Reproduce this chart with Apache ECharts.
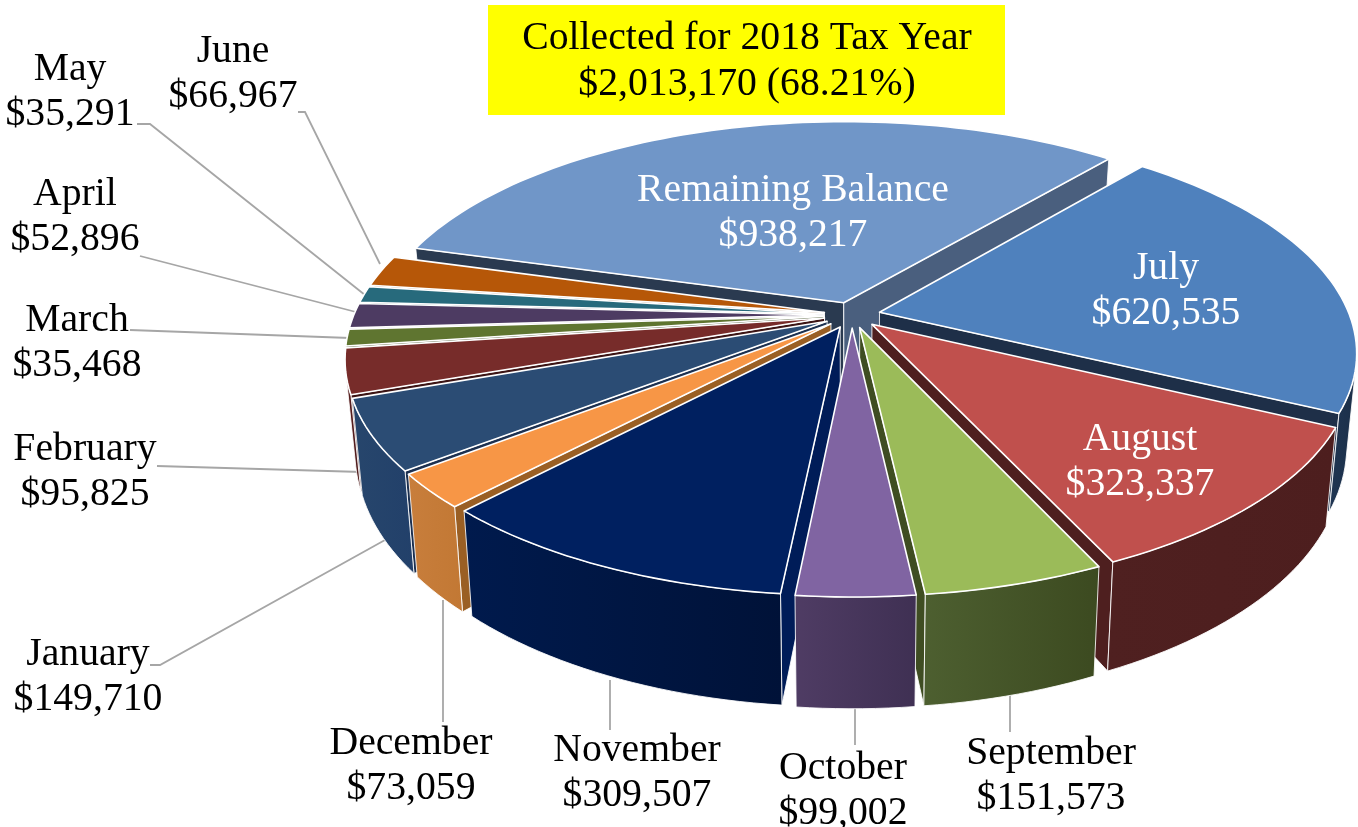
<!DOCTYPE html>
<html><head><meta charset="utf-8">
<style>html,body{margin:0;padding:0;background:#fff}#c{width:1358px;height:827px}</style>
<script src="https://cdn.jsdelivr.net/npm/echarts@6/dist/echarts.min.js"></script>
</head><body><div id="c"></div>
<script>
const categories=['July','August','September','October','November','December','January','February','March','April','May','June','Remaining Balance'];
const amounts=[620535,323337,151573,99002,309507,73059,149710,95825,35468,52896,35291,66967,938217];
const amountLabels=['$620,535','$323,337','$151,573','$99,002','$309,507','$73,059','$149,710','$95,825','$35,468','$52,896','$35,291','$66,967','$938,217'];
const topColors=['#4f81bd','#c0504d','#9bbb59','#8064a2','#002060','#f79646','#2b4c74','#772c2a','#5f7530','#4d3b62','#276a7c','#b65708','#7096c8'];
const wallLeft=['#1f3552','#4f2020','#4d5f30','#4f3c64','#001a4d','#c87e3c','#27466c','#5a2020','#46572a','#3a2c4a','#1c4f5c','#84400a','#4a5f7e'];
const wallRight=['#1c3049','#4d1e1e','#3c4a20','#3f3053','#001238','#c27834','#22406a','#4e1c1c','#3e4d24','#33273f','#173f4b','#733806','#3f5270'];
const startWall=['#1c2f4a','#4e1f1f','#3f4d22','#3f3053','#001c58','#9a5f24','#1c3050','#3c1414','#3e4d24','#33273f','#173f4b','#733806','#2a3a50'];
const endWall=['#1e2f48','#4e1f1f','#3f4d22','#3f3053','#001c58','#9a5f24','#16263e','#3c1414','#3e4d24','#33273f','#173f4b','#733806','#4a5f7e'];
const labelColors=['#fff','#fff','#000','#000','#000','#000','#000','#000','#000','#000','#000','#000','#fff'];
const labelCentres=[[1166,291],[1140,462],[1051,776],[843,791],[637,773],[411,766],[88,677],[85,472],[77,343],[75,217],[70,92],[233,74],[793,213]];
const leaderLines=[null,null,[[1010,732],[1010,695]],[[855,745],[855,708]],[[610,730],[610,680]],[[443,722],[443,600]],[[150,665],[160,665],[385,540]],[[157,466],[362,472]],[[130,330],[350,338]],[[140,256],[356,312]],[[137,124],[150,124],[365,295]],[[298,112],[305,112],[380,264]],null];

const titleLines=['Collected for 2018 Tax Year','$2,013,170 (68.21%)'];
const FONT='"Liberation Serif","Times New Roman",serif';
const FS=39.7;
const view={cx:852,cy:315,b:470,a:216.7,k:0.175,drop:91,lean:0.02,explode:0.06,start:40};
const total=amounts.reduce((s,v)=>s+v,0);
const rad=d=>d*Math.PI/180;
function topPt(X,Y){const s=1/(1-view.k*Y);return [view.cx+view.b*X*s,view.cy+view.a*Y*s,s];}
function botPt(X,Y){const p=topPt(X,Y);return [view.cx+(p[0]-view.cx)*(1-view.lean),p[1]+view.drop*p[2]];}
function area(pts){let s=0;for(let i=0;i<pts.length;i++){const a=pts[i],b=pts[(i+1)%pts.length];s+=a[0]*b[1]-b[0]*a[1];}return s;}

let acc=view.start;
const slices=amounts.map((v,i)=>{const a0=acc,a1=acc+v/total*360;acc=a1;return {i,a0,a1,mid:(a0+a1)/2};});
const rank=slices.slice().sort((p,q)=>(-Math.cos(rad(p.mid)))-(-Math.cos(rad(q.mid)))).map(s=>s.i);

function renderSlice(params){
  const i=params.dataIndex, sl=slices[i], r=rank.indexOf(i)*10+10;
  const ox=view.explode*Math.sin(rad(sl.mid)), oy=-view.explode*Math.cos(rad(sl.mid));
  const steps=Math.max(6,Math.ceil((sl.a1-sl.a0)/1.5));
  const rim=[];
  for(let n=0;n<=steps;n++){const t=rad(sl.a0+(sl.a1-sl.a0)*n/steps);rim.push([ox+Math.sin(t),oy-Math.cos(t)]);}
  const apex=[ox,oy];
  const T=p=>{const q=topPt(p[0],p[1]);return [q[0],q[1]];};
  const children=[];
  const wallStroke={stroke:'rgba(255,255,255,0.85)',lineWidth:1};
  const quad=(u,v)=>[T(u),T(v),botPt(v[0],v[1]),botPt(u[0],u[1])];
  const q0=quad(apex,rim[0]);
  if(area(q0)<0)children.push({type:'polygon',z2:r,shape:{points:q0},style:{fill:startWall[i],...wallStroke}});
  const q1=quad(rim[steps],apex);
  if(area(q1)<0)children.push({type:'polygon',z2:r,shape:{points:q1},style:{fill:endWall[i],...wallStroke}});
  let run=[];
  const flush=()=>{
    if(run.length>1){
      const pts=run.map(T).concat(run.slice().reverse().map(p=>botPt(p[0],p[1])));
      children.push({type:'polygon',z2:r+1,shape:{points:pts},style:{fill:{type:'linear',x:0,y:0,x2:1,y2:0,colorStops:[{offset:0,color:wallLeft[i]},{offset:1,color:wallRight[i]}]},...wallStroke}});
    }
    run=[];
  };
  for(let n=0;n<steps;n++){
    if(area(quad(rim[n],rim[n+1]))<0){if(!run.length)run.push(rim[n]);run.push(rim[n+1]);}
    else flush();
  }
  flush();
  children.push({type:'polygon',z2:r+2,shape:{points:[T(apex)].concat(rim.map(T))},style:{fill:topColors[i],stroke:'#fff',lineWidth:1.6,lineJoin:'round'}});
  return {type:'group',children};
}

const graphics=[
 {type:'rect',z:1,shape:{x:488,y:5,width:517,height:110},style:{fill:'#ffff00'}},
 {type:'text',z:5,x:747,y:62,style:{text:titleLines.join('\n'),font:FS+'px '+FONT,lineHeight:46,fill:'#000',align:'center',verticalAlign:'middle'}}
];
leaderLines.forEach(l=>{if(l)graphics.push({type:'polyline',z:1,shape:{points:l},style:{stroke:'#a6a6a6',lineWidth:1.8,fill:null}});});
categories.forEach((c,i)=>{graphics.push({type:'text',z:5,x:labelCentres[i][0],y:labelCentres[i][1],style:{text:c+'\n'+amountLabels[i],font:FS+'px '+FONT,lineHeight:45,fill:labelColors[i],align:'center',verticalAlign:'middle'}});});

const chart=echarts.init(document.getElementById('c'));
chart.setOption({
  animation:false,
  backgroundColor:'#fff',
  graphic:graphics,
  series:[{type:'custom',coordinateSystem:'none',z:2,silent:true,renderItem:renderSlice,
    data:categories.map((n,i)=>({name:n,value:amounts[i]}))}]
});
</script></body></html>
